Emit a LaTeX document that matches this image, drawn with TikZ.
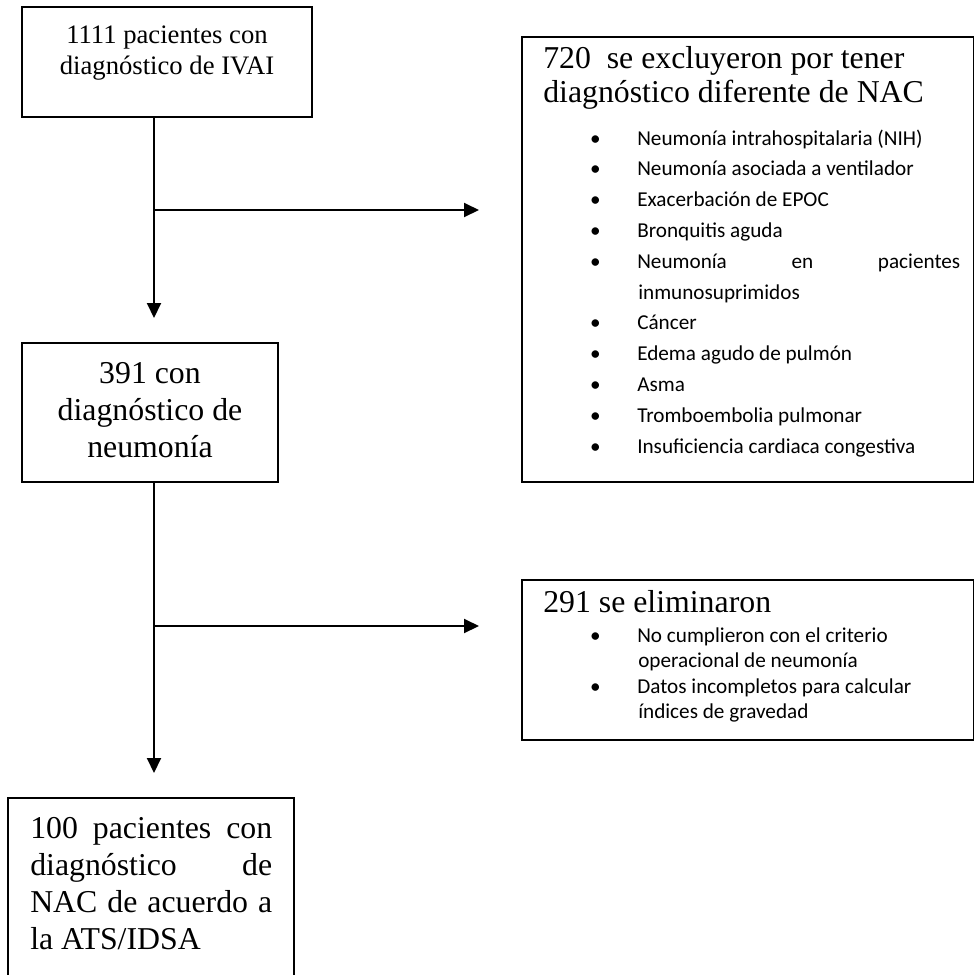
\documentclass[tikz,border=0pt]{standalone}
\usepackage{fontspec}
\setmainfont{Liberation Serif}
\newfontfamily\calib{Carlito}
\usetikzlibrary{arrows.meta}
\tikzset{
  box/.style={draw, line width=1.5pt, rectangle, inner sep=0pt, outer sep=0pt, anchor=north west},
  tit/.style={font=\fontsize{23.85}{28}\selectfont, inner sep=0pt, anchor=base west},
  titc/.style={font=\fontsize{23.85}{28}\selectfont, inner sep=0pt, anchor=base},
  smallc/.style={font=\fontsize{20}{24}\selectfont, inner sep=0pt, anchor=base},
  item/.style={font=\calib\fontsize{15.9}{19}\selectfont, inner sep=0pt, anchor=base west},
  arr/.style={line width=1.5pt, -{Triangle[length=11.25pt,width=10.5pt]}},
}
\newcommand{\bul}{\llap{•\hspace{27.5pt}}}
\begin{document}
\begin{tikzpicture}[x=0.75pt,y=-0.75pt]
\useasboundingbox (0,0) rectangle (974,975);
\clip (0,0) rectangle (974,975);
% boxes
\node[box, minimum width=217.5pt, minimum height=82.5pt] (b1) at (22,7) {};
\node[box, minimum width=192pt, minimum height=104.25pt] (b2) at (22,343) {};
\node[box, minimum width=339pt, minimum height=333.75pt] (b3) at (522,37) {};
\node[box, minimum width=339pt, minimum height=120pt] (b4) at (522,580) {};
\node[box, minimum width=214.5pt, minimum height=150pt] (b5) at (8,798) {};
% box 1 text
\node[smallc] (t1a) at (167,43) {1111 pacientes con};
\node[smallc] (t1b) at (167,74) {diagnóstico de IVAI};
% box 2 text
\node[titc] (t2a) at (150,383) {391 con};
\node[titc] (t2b) at (150,420) {diagnóstico de};
\node[titc] (t2c) at (150,457) {neumonía};
% box 3 text
\node[tit] (t3a) at (543,68) {720\ \ se excluyeron por tener};
\node[tit] (t3b) at (543,102) {diagnóstico diferente de NAC};
\node[item] (i1) at (637,145) {\bul Neumonía intrahospitalaria (NIH)};
\node[item] (i2) at (637,175.8) {\bul Neumonía asociada a ventilador};
\node[item] (i3) at (637,206.6) {\bul Exacerbación de EPOC};
\node[item] (i4) at (637,237.4) {\bul Bronquitis aguda};
\node[item] (i5) at (637,268.2) {\bul\hbox to 242.25pt{Neumonía\hfill en\hfill pacientes}};
\node[item] (i6) at (638,299) {inmunosuprimidos};
\node[item] (i7) at (637,329.8) {\bul Cáncer};
\node[item] (i8) at (637,360.6) {\bul Edema agudo de pulmón};
\node[item] (i9) at (637,391.4) {\bul Asma};
\node[item] (i10) at (637,422.2) {\bul Tromboembolia pulmonar};
\node[item] (i11) at (637,453) {\bul Insuficiencia cardiaca congestiva};
% box 4 text
\node[tit] (t4a) at (543,612) {291 se eliminaron};
\node[item] (k1) at (637,642) {\bul No cumplieron con el criterio};
\node[item] (k2) at (638,667.5) {operacional de neumonía};
\node[item] (k3) at (637,693) {\bul Datos incompletos para calcular};
\node[item] (k4) at (638,718.5) {índices de gravedad};
% box 5 text
\node[tit] (t5a) at (30,838) {\hbox to 181.5pt{100\hfill pacientes\hfill con}};
\node[tit] (t5b) at (30,875) {\hbox to 181.5pt{diagnóstico\hfill de}};
\node[tit] (t5c) at (30,912) {\hbox to 181.5pt{NAC de acuerdo a}};
\node[tit] (t5d) at (30,949) {la ATS/IDSA};
% connectors
\coordinate (spine) at (154,0);
\coordinate (j1) at (154,210);
\coordinate (j2) at (154,626);
\draw[arr, shorten >=18.75pt] (b1.south -| spine) -- (b2.north -| spine);
\draw[arr, shorten >=18.75pt] (b2.south -| spine) -- (b5.north -| spine);
\draw[arr, shorten >=32.25pt] (j1) -- (j1 -| b3.west);
\draw[arr, shorten >=32.25pt] (j2) -- (j2 -| b4.west);
\end{tikzpicture}
\end{document}
